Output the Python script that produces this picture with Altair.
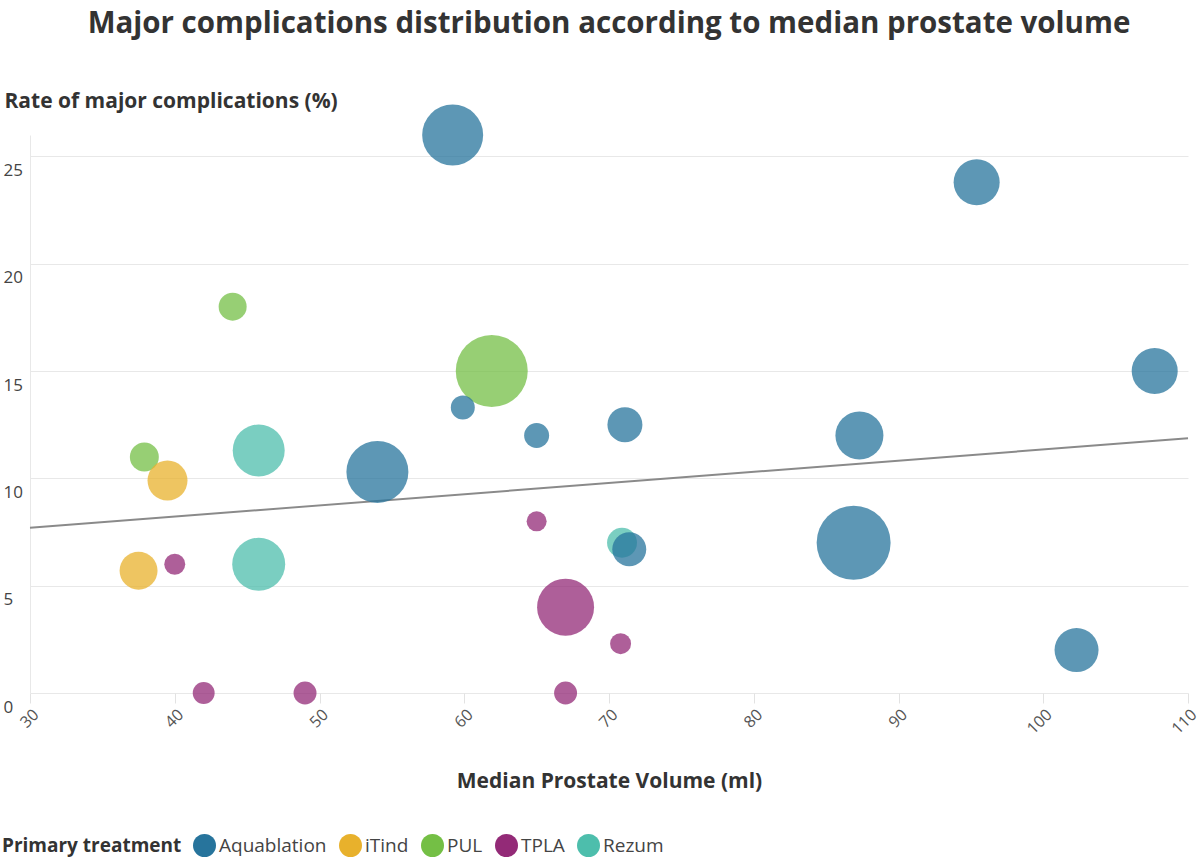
import altair as alt
import pandas as pd

# ---- data ----
treatment = (["Aquablation"] * 11 + ["iTind"] * 2 + ["PUL"] * 3 + ["TPLA"] * 7 + ["Rezum"] * 3)
volume = [59.2, 95.4, 107.7, 59.9, 65.0, 71.1, 87.3, 54.0, 86.9, 71.4, 102.3,
          39.5, 37.5,
          44.0, 37.9, 61.9,
          40.0, 42.0, 49.0, 67.0, 65.0, 67.0, 70.8,
          45.8, 45.8, 70.9]
rate = [26.0, 23.8, 15.0, 13.3, 12.0, 12.5, 12.0, 10.3, 7.0, 6.7, 2.0,
        9.9, 5.7,
        18.0, 11.0, 15.0,
        6.0, 0.0, 0.0, 0.0, 8.0, 4.0, 2.3,
        11.3, 6.0, 7.0]
patients = [465, 265, 265, 72, 78, 153, 288, 480, 684, 144, 242,
            200, 180,
            98, 105, 648,
            55, 60, 66, 66, 50, 406, 55,
            338, 351, 112]

categories = ["Aquablation", "iTind", "PUL", "TPLA", "Rezum"]
colors = ["#27749c", "#e8b12c", "#74bf45", "#932a77", "#4dbeac"]
draw_order = ["Rezum", "PUL", "TPLA", "iTind", "Aquablation"]

trend_x = [30, 110]
trend_y = [7.7, 11.87]

x_ticks = [30, 40, 50, 60, 70, 80, 90, 100, 110]
y_ticks = [0, 5, 10, 15, 20, 25]

df = pd.DataFrame({"treatment": treatment, "volume": volume, "rate": rate, "patients": patients})
df["z"] = df["treatment"].map({c: i for i, c in enumerate(draw_order)})
df = df.sort_values("z", kind="stable")
trend = pd.DataFrame({"volume": trend_x, "rate": trend_y})

FONT = "Open Sans"

x_scale = alt.Scale(domain=[30, 110], nice=False, zero=False)
y_scale = alt.Scale(domain=[0, 26], nice=False, zero=True)

points = alt.Chart(df).mark_circle(opacity=0.75).encode(
    x=alt.X("volume:Q", scale=x_scale, axis=alt.Axis(
        values=x_ticks, grid=False, domain=False, ticks=True, tickSize=10,
        tickColor="#e2e2e2", labelAngle=-45, labelFontSize=16, labelColor="#555555",
        labelPadding=3, title="Median Prostate Volume (ml)", titleFontSize=21,
        titleFontWeight="bold", titleColor="#333333", titleY=88, titleBaseline="middle")),
    y=alt.Y("rate:Q", scale=y_scale, axis=alt.Axis(
        values=y_ticks, grid=True, gridColor="#e8e8e8", domain=True, domainColor="#e8e8e8",
        ticks=False, tickSize=0, labelAlign="left", labelBaseline="top", labelPadding=27,
        labelOffset=6, labelFontSize=17, labelColor="#444444",
        title="Rate of major complications (%)", titleAngle=0, titleAlign="left",
        titleBaseline="middle", titleX=-26, titleY=-34, titleFontSize=21,
        titleFontWeight="bold", titleColor="#333333")),
    color=alt.Color("treatment:N", scale=alt.Scale(domain=categories, range=colors),
                    legend=alt.Legend(
                        orient="none", legendX=-28, legendY=699, direction="horizontal",
                        titleOrient="left", title="Primary treatment", titleFontSize=19,
                        titleFontWeight="bold", titleColor="#333333", labelFontSize=19,
                        labelColor="#444444", symbolSize=529, symbolOpacity=1,
                        symbolType="circle", symbolStrokeWidth=0, columnPadding=12,
                        labelOffset=3, titlePadding=11)),
    size=alt.Size("patients:Q", scale=alt.Scale(domain=[0, 700], range=[0, 5600], zero=True),
                  legend=None),
)

line = alt.Chart(trend).mark_line(color="#8a8a8a", strokeWidth=2).encode(
    x=alt.X("volume:Q", scale=x_scale),
    y=alt.Y("rate:Q", scale=y_scale),
)

chart = alt.layer(line, points).properties(
    width=1158, height=558,
    title=alt.TitleParams(
        "Major complications distribution according to median prostate volume",
        fontSize=29.5, fontWeight="bold", color="#333333", anchor="middle", font=FONT,
        offset=20, dy=-31),
    autosize=alt.AutoSizeParams(type="none"),
    padding={"left": 30, "top": 135, "right": 12, "bottom": 166},
).configure(font=FONT).configure_view(stroke=None)

chart.save("out.html", embed_options={"renderer": "svg", "actions": False})
